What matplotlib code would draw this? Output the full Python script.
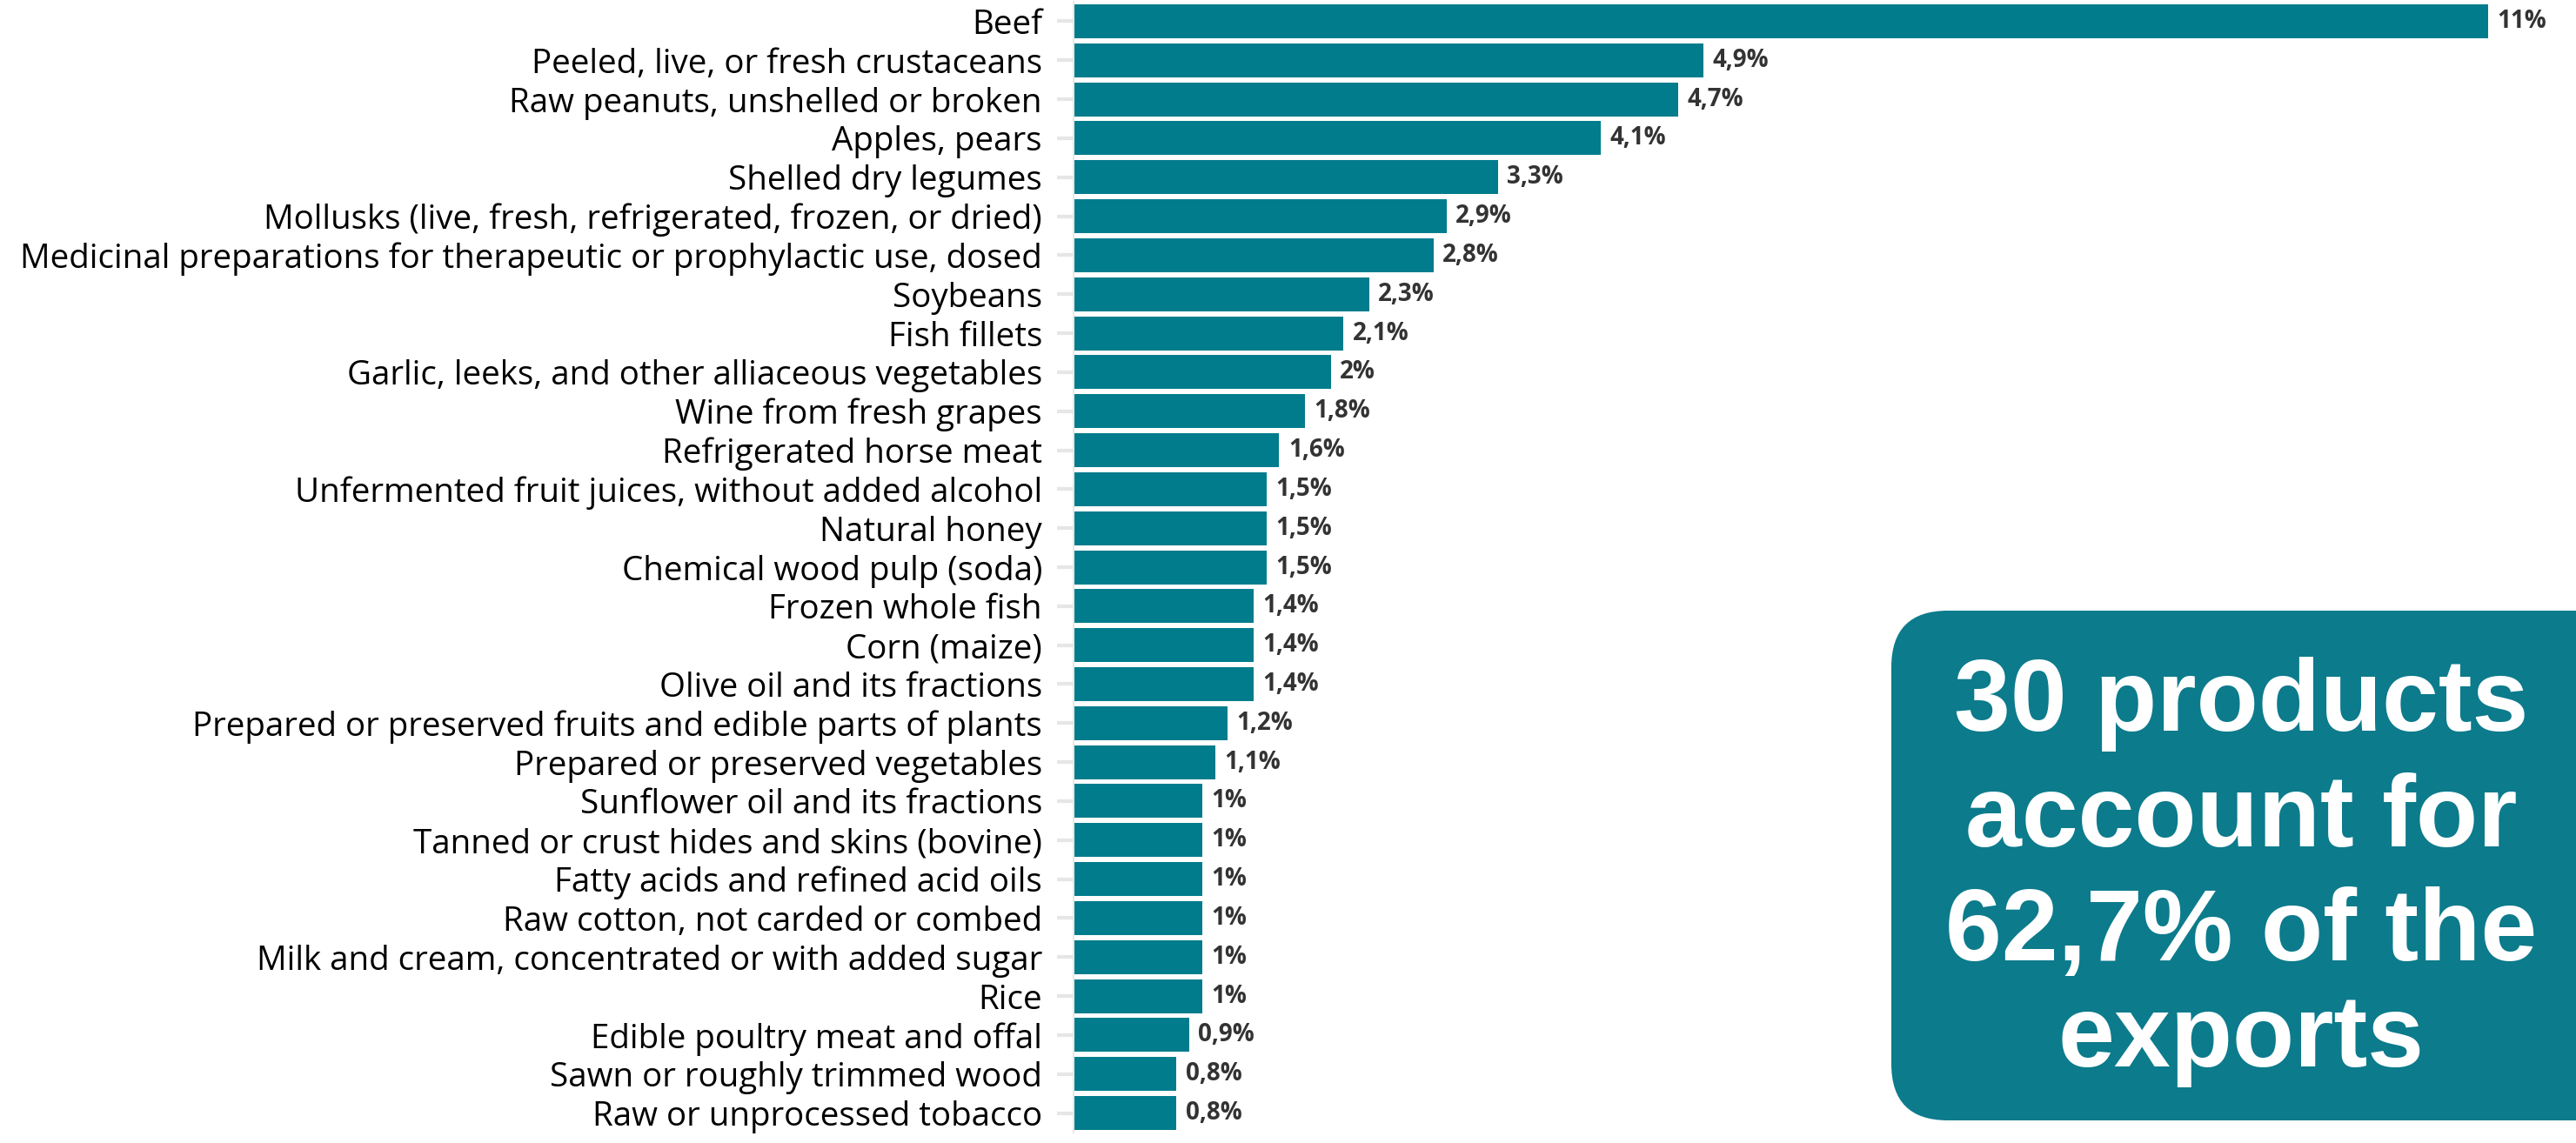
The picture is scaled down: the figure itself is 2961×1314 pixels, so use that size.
import matplotlib
matplotlib.use("Agg")
import matplotlib.pyplot as plt
from matplotlib.patches import FancyBboxPatch

products = [
    "Beef",
    "Peeled, live, or fresh crustaceans",
    "Raw peanuts, unshelled or broken",
    "Apples, pears",
    "Shelled dry legumes",
    "Mollusks (live, fresh, refrigerated, frozen, or dried)",
    "Medicinal preparations for therapeutic or prophylactic use, dosed",
    "Soybeans",
    "Fish fillets",
    "Garlic, leeks, and other alliaceous vegetables",
    "Wine from fresh grapes",
    "Refrigerated horse meat",
    "Unfermented fruit juices, without added alcohol",
    "Natural honey",
    "Chemical wood pulp (soda)",
    "Frozen whole fish",
    "Corn (maize)",
    "Olive oil and its fractions",
    "Prepared or preserved fruits and edible parts of plants",
    "Prepared or preserved vegetables",
    "Sunflower oil and its fractions",
    "Tanned or crust hides and skins (bovine)",
    "Fatty acids and refined acid oils",
    "Raw cotton, not carded or combed",
    "Milk and cream, concentrated or with added sugar",
    "Rice",
    "Edible poultry meat and offal",
    "Sawn or roughly trimmed wood",
    "Raw or unprocessed tobacco",
]
share = [11, 4.9, 4.7, 4.1, 3.3, 2.9, 2.8, 2.3, 2.1, 2, 1.8, 1.6, 1.5, 1.5, 1.5,
         1.4, 1.4, 1.4, 1.2, 1.1, 1, 1, 1, 1, 1, 1, 0.9, 0.8, 0.8]
box_lines = ["30 products", "account for", "62,7% of the", "exports"]

bar_color = "#017C8C"
box_color = "#0C7B8C"


def pct(v):
    if v == int(v):
        return "%d%%" % v
    return ("%.1f%%" % v).replace(".", ",")


W, H = 2961, 1314
fig = plt.figure(figsize=(W / 100, H / 100), dpi=100)

ax = fig.add_axes([1234 / W, 1 - 1302 / H, 1 - 1234 / W, (1302 - 2) / H])
y = range(len(products))
ax.barh(y, share, height=0.87, color=bar_color)
ax.set_ylim(len(products) - 0.5, -0.5)
ax.set_xlim(0, (W - 1234) / 147.8)

for i, v in enumerate(share):
    ax.text(v + 0.07, i, pct(v), va="center", ha="left", fontsize=20,
            fontweight="bold", color="#333333", family=["Open Sans", "DejaVu Sans"])

ax.set_yticks(list(y))
ax.set_yticklabels(products, fontsize=27.7, family=["Open Sans", "DejaVu Sans"], color="#000000")
ax.tick_params(axis="y", length=14, width=3, color="#e6e6e6", pad=12)
ax.set_xticks([])
for s in ["top", "right", "bottom"]:
    ax.spines[s].set_visible(False)
ax.spines["left"].set_color("#e8e8e8")
ax.spines["left"].set_linewidth(1.5)

# callout box, drawn in pixel units on an overlay axes
ov = fig.add_axes([0, 0, 1, 1])
ov.set_xlim(0, W)
ov.set_ylim(H, 0)
ov.axis("off")
ov.patch.set_alpha(0)
box = FancyBboxPatch((2174 + 65, 702 + 65), 880 - 130, 586 - 130,
                     boxstyle="round,pad=65", facecolor=box_color, edgecolor="none")
ov.add_patch(box)
baselines = [840, 973, 1104, 1226]
for line, b in zip(box_lines, baselines):
    ov.text(2576, b, line, ha="center", va="baseline", fontsize=84, fontweight="bold",
            color="white", family=["Liberation Sans", "DejaVu Sans"])

fig.savefig("out.png", dpi=100)
